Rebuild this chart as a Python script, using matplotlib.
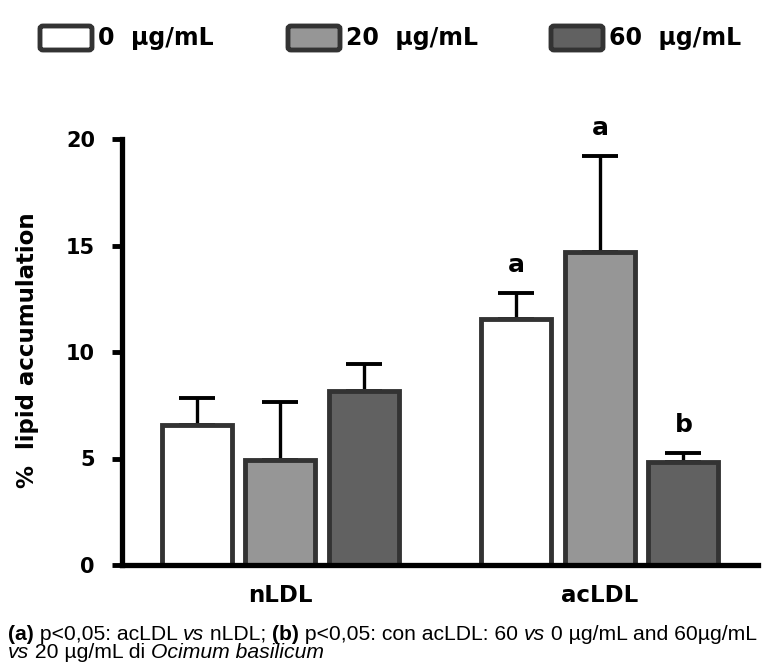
import matplotlib
matplotlib.use("Agg")
import matplotlib.pyplot as plt
from matplotlib.patches import FancyBboxPatch
from matplotlib import font_manager
import numpy as np

groups = ["nLDL", "acLDL"]
doses = ["0  µg/mL", "20  µg/mL", "60  µg/mL"]
means = {
    "0  µg/mL": [6.57, 11.55],
    "20  µg/mL": [4.93, 14.69],
    "60  µg/mL": [8.17, 4.84],
}
errs = {
    "0  µg/mL": [1.27, 1.22],
    "20  µg/mL": [2.72, 4.51],
    "60  µg/mL": [1.27, 0.42],
}
letters = {("0  µg/mL", 1): "a", ("20  µg/mL", 1): "a", ("60  µg/mL", 1): "b"}
yticks = [0, 5, 10, 15, 20]

colors = ["#ffffff", "#969696", "#616161"]
edge = "#333333"

names = {f.name for f in font_manager.fontManager.ttflist}
capfam = "Liberation Sans" if "Liberation Sans" in names else "DejaVu Sans"
plt.rcParams["font.family"] = ["DejaVu Sans"]

fig = plt.figure(figsize=(7.68, 6.66), dpi=100)
ax = fig.add_axes([122/768, 1-565/666, (758-122)/768, (565-139)/666])

x = np.arange(len(groups))
step = 0.261
width = 0.219
for i, d in enumerate(doses):
    xs = x + (i-1)*step
    ax.bar(xs, means[d], width=width, color=colors[i], edgecolor=edge, linewidth=3.5, zorder=2)
    ax.errorbar(xs, means[d], yerr=[np.zeros(len(groups)), errs[d]], fmt="none",
                ecolor="black", elinewidth=2.4, capsize=13, capthick=2.8, zorder=1, clip_on=False)
    for j in range(len(groups)):
        if (d, j) in letters:
            ax.text(xs[j], means[d][j]+errs[d][j]+1.0, letters[(d, j)], ha="center", va="baseline",
                    fontsize=18, fontweight="bold", clip_on=False)

ax.set_xlim(-0.494, 1.494)
ax.set_ylim(0, 20)
ax.set_yticks(yticks)
ax.set_yticklabels([str(t) for t in yticks], fontsize=15, fontweight="bold")
ax.set_xticks(x)
ax.set_xticklabels(groups, fontsize=16.5, fontweight="bold")
ax.tick_params(axis="x", length=0, pad=14)
ax.tick_params(axis="y", length=7.5, width=3.5, pad=12)
for s in ["top", "right"]:
    ax.spines[s].set_visible(False)
for s in ["left", "bottom"]:
    ax.spines[s].set_linewidth(3.8)
fig.text(28/768, 1-350/666, "%  lipid accumulation", rotation=90, ha="center", va="center",
         fontsize=16.5, fontweight="bold")

# legend
box_x = [40, 288, 551]
for i, d in enumerate(doses):
    bx = box_x[i]
    p = FancyBboxPatch((bx/768, 1-50/666), 52/768, 24/666,
                       boxstyle="round,pad=0,rounding_size=0.004",
                       transform=fig.transFigure, facecolor=colors[i], edgecolor=edge,
                       linewidth=3.5)
    fig.patches.append(p)
    fig.text((bx+58)/768, 1-38/666, d, fontsize=17, fontweight="bold", va="center", ha="left")

# caption
renderer = fig.canvas.get_renderer()
def seg_line(parts, x0, y0):
    xpix = x0
    for txt, kw in parts:
        t = fig.text(xpix/768, y0, txt, fontsize=15.2, family=[capfam, "DejaVu Sans"],
                     va="center", ha="left", **kw)
        bb = t.get_window_extent(renderer=renderer)
        xpix = bb.x1

seg_line([("(a)", dict(fontweight="bold")), (" p<0,05: acLDL ", {}), ("vs", dict(style="italic")),
          (" nLDL; ", {}), ("(b)", dict(fontweight="bold")),
          (" p<0,05: con acLDL: 60 ", {}), ("vs", dict(style="italic")),
          (" 0 µg/mL and 60µg/mL", {})], 8, 1-634/666)
seg_line([("vs", dict(style="italic")), (" 20 µg/mL di ", {}),
          ("Ocimum basilicum", dict(style="italic"))], 8, 1-653/666)

fig.savefig("out.png", dpi=100)
